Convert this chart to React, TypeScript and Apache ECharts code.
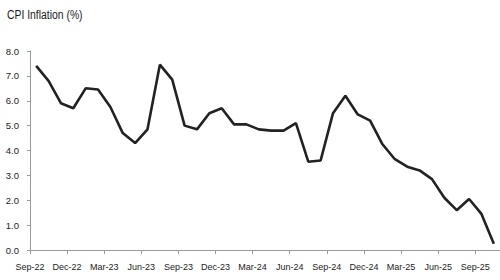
import React, { useEffect, useRef } from "react";
import * as echarts from "echarts";

const months = [
  "Sep-22", "Oct-22", "Nov-22", "Dec-22", "Jan-23", "Feb-23", "Mar-23", "Apr-23", "May-23", "Jun-23",
  "Jul-23", "Aug-23", "Sep-23", "Oct-23", "Nov-23", "Dec-23", "Jan-24", "Feb-24", "Mar-24", "Apr-24",
  "May-24", "Jun-24", "Jul-24", "Aug-24", "Sep-24", "Oct-24", "Nov-24", "Dec-24", "Jan-25", "Feb-25",
  "Mar-25", "Apr-25", "May-25", "Jun-25", "Jul-25", "Aug-25", "Sep-25", "Oct-25",
];

const cpi = [
  7.4, 6.8, 5.9, 5.7, 6.5, 6.45, 5.75, 4.7, 4.3, 4.85,
  7.45, 6.85, 5.0, 4.85, 5.5, 5.7, 5.05, 5.05, 4.85, 4.8,
  4.8, 5.1, 3.55, 3.6, 5.5, 6.2, 5.45, 5.2, 4.25, 3.65,
  3.35, 3.2, 2.85, 2.1, 1.6, 2.05, 1.45, 0.25,
];

const TITLE = "CPI Inflation (%)";
const FONT = "'Liberation Sans Narrow', 'Liberation Sans', Arial, sans-serif";

export default function App() {
  const ref = useRef<HTMLDivElement>(null);
  useEffect(() => {
    if (!ref.current) return;
    const chart = echarts.init(ref.current, undefined, { renderer: "svg" });
    chart.setOption({
      animation: false,
      backgroundColor: "#ffffff",
      graphic: [
        {
          type: "text",
          x: 7,
          y: 8,
          scaleX: 0.77,
          scaleY: 1,
          style: {
            text: TITLE,
            fontFamily: FONT,
            fontSize: 13.5,
            fill: "#1a1a1a",
            textAlign: "left",
            textVerticalAlign: "top",
          },
        },
      ],
      grid: { left: 30, right: -1, top: 51, bottom: 30, containLabel: false },
      xAxis: {
        type: "category",
        data: months,
        boundaryGap: true,
        axisLine: { show: true, lineStyle: { color: "#9a9a9a", width: 1 } },
        axisTick: { show: true, interval: 2, length: 4, lineStyle: { color: "#9a9a9a" } },
        axisLabel: {
          interval: 2,
          margin: 12,
          fontFamily: FONT,
          fontSize: 9,
          color: "#222",
          padding: [0, 12.4, 0, 0],
        },
        splitLine: { show: false },
      },
      yAxis: {
        type: "value",
        min: 0,
        max: 8,
        interval: 1,
        axisLine: { show: true, lineStyle: { color: "#9a9a9a", width: 1 } },
        axisTick: { show: true, length: 3, lineStyle: { color: "#9a9a9a" } },
        axisLabel: {
          margin: 11,
          fontFamily: FONT,
          fontSize: 9.5,
          color: "#222",
          formatter: (v: number) => v.toFixed(1),
        },
        splitLine: { show: false },
      },
      series: [
        {
          type: "line",
          data: cpi,
          showSymbol: false,
          symbol: "none",
          lineStyle: { color: "#222222", width: 2.6 },
          itemStyle: { color: "#222222" },
        },
      ],
    });
    return () => chart.dispose();
  }, []);
  return (
    <div
      ref={ref}
      style={{ position: "fixed", left: 0, top: 0, width: 500, height: 280 }}
    />
  );
}
